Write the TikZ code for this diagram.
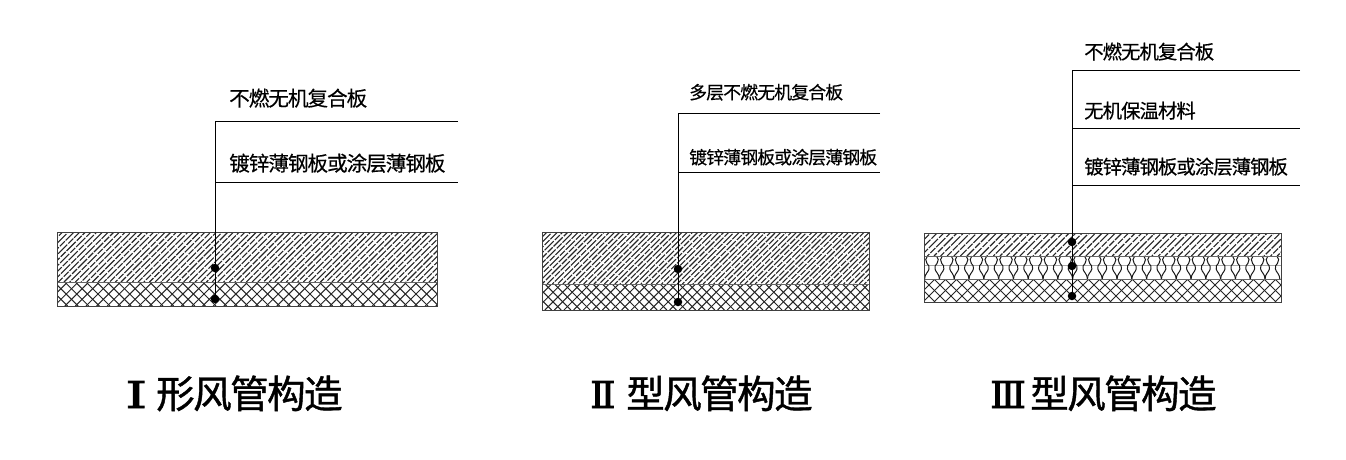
\documentclass[tikz,border=0pt]{standalone}
\usepackage{fontspec}
\setmainfont[FakeBold=0.35,LetterSpace=-5]{Noto Sans CJK SC}
\newfontfamily\titlefont[FakeBold=1.1,LetterSpace=-4]{Noto Sans CJK SC}
\newfontfamily\romanfont[FakeBold=2.5]{DejaVu Serif}
\newfontfamily\romanwide[FakeBold=2.5,FakeStretch=1.5]{DejaVu Serif}
\newcommand{\lab}[2]{\fontsize{#1}{#1}\selectfont #2}
% x0 y0 x1 y1 step style
\newcommand{\hatchfwd}[6]{%
  \begin{scope}
    \clip (#1,#2) rectangle (#3,#4);
    \pgfmathsetmacro{\hh}{#4-#2}
    \pgfmathsetmacro{\xa}{#1-\hh}
    \pgfmathsetmacro{\xb}{\xa+#5}
    \foreach \x in {\xa,\xb,...,#3} {
      \pgfmathsetmacro{\ph}{mod(\x,7)*3}
      \draw[#6,dash phase=\ph pt] (\x,#4) -- (\x+\hh,#2);
    }
  \end{scope}}
\newcommand{\hatchbwd}[6]{%
  \begin{scope}
    \clip (#1,#2) rectangle (#3,#4);
    \pgfmathsetmacro{\hh}{#4-#2}
    \pgfmathsetmacro{\xa}{#1-\hh}
    \pgfmathsetmacro{\xb}{\xa+#5}
    \foreach \x in {\xa,\xb,...,#3} \draw[#6] (\x,#2) -- (\x+\hh,#4);
  \end{scope}}
\tikzset{
  x=1pt,y=-1pt,
  leader/.style={draw=black,line width=0.9pt},
  outline/.style={draw=black!75,line width=1pt},
  divide/.style={draw=black!60,line width=1pt},
  dotmark/.style={circle,fill=black,inner sep=0pt,minimum size=8.5pt},
  small/.style={anchor=base west,inner sep=0pt,text=black},
  title/.style={anchor=base west,inner sep=0pt,text=black},
  fine/.style={line width=1.1pt,black!85,dash pattern=on 13pt off 1.5pt on 7pt off 1.2pt},
  cross/.style={line width=1pt,black!85},
  wave/.style={line width=1pt,black!90},
}
\begin{document}
\begin{tikzpicture}
\useasboundingbox (0,0) rectangle (1346,459);
\fill[white] (0,0) rectangle (1346,459);
% Panel I
\hatchfwd{57}{232}{437}{282}{5.7}{fine}
\hatchfwd{57}{282}{437}{306}{10.6}{cross}
\hatchbwd{57}{282}{437}{306}{10.6}{cross}
\draw[divide] (57,282) -- (437,282);
\draw[outline] (57,232) rectangle (437,306);
\coordinate (a0) at (215,121);
\coordinate (a1) at (458,121);
\coordinate (a2) at (458,182);
\node[dotmark] (ad1) at (215,268) {};
\node[dotmark] (ad2) at (215,299) {};
\coordinate (a3) at (215,182);
\draw[leader] (a1) -- (a0) -- (ad2.center);
\draw[leader] (a3) -- (a2);
\node[small] (al1) at (229,106) {\lab{20.6}{不燃无机复合板}};
\node[small] (al2) at (229,171) {\lab{20.6}{镀锌薄钢板或涂层薄钢板}};
\node[title] (at) at (125,408) {\romanwide\lab{37}{Ⅰ}};
\node[title] (at2) at (156,408) {\titlefont\lab{38.5}{形风管构造}};
% Panel II
\hatchfwd{542}{232}{869}{284}{5.2}{fine}
\hatchfwd{542}{284}{869}{310}{9.6}{cross}
\hatchbwd{542}{284}{869}{310}{9.6}{cross}
\draw[divide] (542,284) -- (869,284);
\draw[outline] (542,232) rectangle (869,310);
\coordinate (b0) at (678,113);
\coordinate (b1) at (880,113);
\coordinate (b2) at (880,172);
\coordinate (b3) at (678,172);
\node[dotmark] (bd1) at (678,269) {};
\node[dotmark] (bd2) at (678,302) {};
\draw[leader] (b1) -- (b0) -- (bd2.center);
\draw[leader] (b3) -- (b2);
\node[small] (bl1) at (689,99) {\lab{17.9}{多层不燃无机复合板}};
\node[small] (bl2) at (689,164) {\lab{17.9}{镀锌薄钢板或涂层薄钢板}};
\node[title] (bt) at (590,408) {\romanfont\lab{37}{Ⅱ}};
\node[title] (bt2) at (626,408) {\titlefont\lab{38.5}{型风管构造}};
% Panel III
\hatchfwd{924}{233}{1281}{256}{6.6}{fine}
\draw[draw=black!35,line width=1pt] (924,265) -- (1281,265);
\foreach \c in {932,946.8,...,1281} {
  \draw[wave] (\c-4.5,256) .. controls (\c-6.5,258) and (\c-7,261) .. (\c-5,263.5)
     .. controls (\c-3.5,265) and (\c-2.5,266) .. (\c-3,269)
     .. controls (\c-3.5,272) and (\c-7.4,274) .. (\c-7.4,279);
  \draw[wave] (\c+4.5,256) .. controls (\c+6.5,258) and (\c+7,261) .. (\c+5,263.5)
     .. controls (\c+3.5,265) and (\c+2.5,266) .. (\c+3,269)
     .. controls (\c+3.5,272) and (\c+7.4,274) .. (\c+7.4,279);
}
\hatchfwd{924}{279}{1281}{302}{11}{cross}
\hatchbwd{924}{279}{1281}{302}{11}{cross}
\draw[divide] (924,256) -- (1281,256);
\draw[divide] (924,279) -- (1281,279);
\draw[outline] (924,233) rectangle (1281,302);
\coordinate (c0) at (1072,70);
\coordinate (c1) at (1300,70);
\coordinate (c2) at (1300,128);
\coordinate (c3) at (1072,128);
\coordinate (c4) at (1300,185);
\coordinate (c5) at (1072,185);
\node[dotmark] (cd1) at (1072,242) {};
\node[dotmark] (cd2) at (1072,266) {};
\node[dotmark] (cd3) at (1072,296) {};
\draw[leader] (c1) -- (c0) -- (cd3.center);
\draw[leader] (c3) -- (c2);
\draw[leader] (c5) -- (c4);
\node[small] (cl1) at (1084,59) {\lab{19.4}{不燃无机复合板}};
\node[small] (cl2) at (1084,118) {\lab{19.4}{无机保温材料}};
\node[small] (cl3) at (1084,174) {\lab{19.4}{镀锌薄钢板或涂层薄钢板}};
\node[title] (ct) at (990,408) {\romanfont\lab{37}{Ⅲ}};
\node[title] (ct2) at (1030,408) {\titlefont\lab{38.5}{型风管构造}};
\end{tikzpicture}
\end{document}
